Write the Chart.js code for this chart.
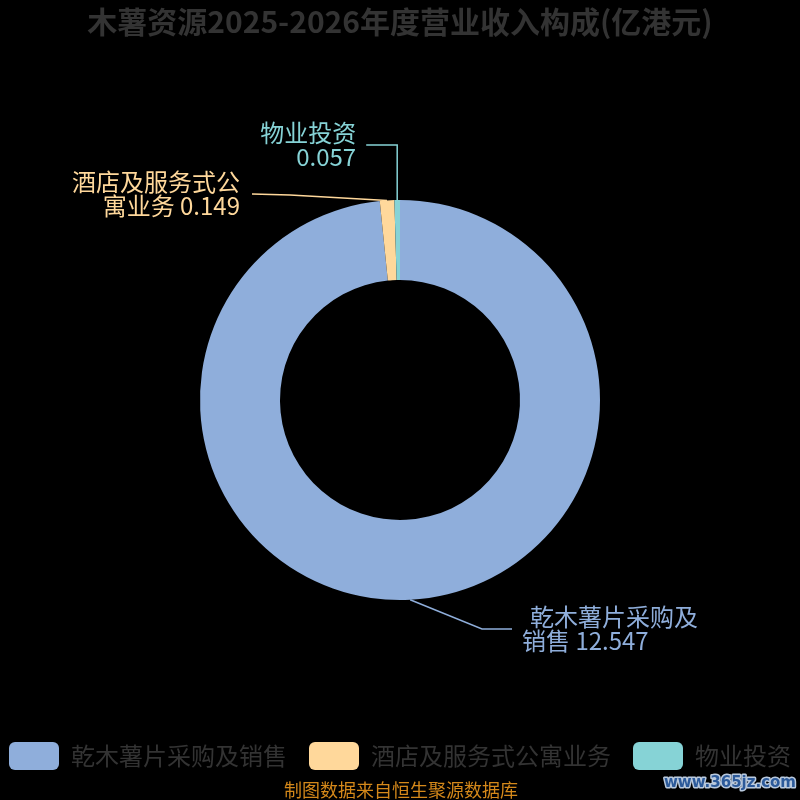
<!DOCTYPE html>
<html>
<head>
<meta charset="utf-8">
<script src="https://cdn.jsdelivr.net/npm/chart.js@4.4.1/dist/chart.umd.min.js"></script>
<style>
html,body{margin:0;padding:0;background:#000;}
#wrap{width:800px;height:800px;position:relative;background:#000;}
canvas{display:block;}
</style>
</head>
<body>
<div id="wrap"><canvas id="c" width="800" height="800"></canvas></div>
<script>
// ---- data ----
const title = '木薯资源2025-2026年度营业收入构成(亿港元)';
const categories = ['乾木薯片采购及销售', '酒店及服务式公寓业务', '物业投资'];
const values = [12.547, 0.149, 0.057];
const valueLabels = ['12.547', '0.149', '0.057'];
const labelWrap = [7, 7, 4];           // characters on the first label line
const footer = '制图数据来自恒生聚源数据库';
const watermark = 'www.365jz.com';

// ---- style ----
const FONT = '"Noto Sans CJK SC", "Noto Sans", sans-serif';
const colors = ['#8FAEDB', '#FFD89B', '#86D3D6'];
// leader line geometry relative to the chart centre (style only)
const labelStyle = [
  { elbow: [82, 229],  end: [112, 229],  align: 'left',  gap: 10, indent: 8 },
  { elbow: [-110, -205], end: [-148, -206], align: 'right', gap: 12, indent: 0 },
  { elbow: null, elbowY: -255, endDx: -31, align: 'right', gap: 10, indent: 0 }
];

Chart.defaults.font.family = FONT;

function labelLines(i) {
  const cat = categories[i];
  const n = labelWrap[i];
  const first = cat.slice(0, n);
  const rest = cat.slice(n);
  return [first, (rest ? rest + ' ' : '') + valueLabels[i]];
}

const bgPlugin = {
  id: 'bg',
  beforeDraw(chart) {
    const c = chart.ctx;
    c.save();
    c.fillStyle = '#000';
    c.fillRect(0, 0, chart.width, chart.height);
    c.restore();
  }
};

const sliceLabels = {
  id: 'sliceLabels',
  afterDatasetsDraw(chart) {
    const c = chart.ctx;
    const meta = chart.getDatasetMeta(0);
    meta.data.forEach((arc, i) => {
      const p = arc.getProps(['x', 'y', 'startAngle', 'endAngle', 'outerRadius'], true);
      const mid = (p.startAngle + p.endAngle) / 2;
      const sx = p.x + Math.cos(mid) * p.outerRadius;
      const sy = p.y + Math.sin(mid) * p.outerRadius;
      const st = labelStyle[i];
      let ex, ey, ox, oy;
      if (st.elbow) {
        ex = p.x + st.elbow[0]; ey = p.y + st.elbow[1];
        ox = p.x + st.end[0];   oy = p.y + st.end[1];
      } else {
        ex = sx; ey = p.y + st.elbowY;
        ox = sx + st.endDx; oy = ey;
      }
      c.save();
      c.strokeStyle = colors[i];
      c.lineWidth = 1.5;
      c.beginPath();
      c.moveTo(sx, sy);
      c.lineTo(ex, ey);
      c.lineTo(ox, oy);
      c.stroke();
      c.fillStyle = colors[i];
      c.font = '24px ' + FONT;
      c.textBaseline = 'middle';
      c.textAlign = st.align;
      const lines = labelLines(i);
      const lh = 24;
      const tx = st.align === 'left' ? ox + st.gap : ox - st.gap;
      lines.forEach((ln, k) => {
        const y = oy - lh / 2 + k * lh;
        const x = (k === 0 && st.align === 'left') ? tx + st.indent : tx;
        c.fillText(ln, x, y);
      });
      c.restore();
    });
  }
};

const textPlugin = {
  id: 'texts',
  afterDraw(chart) {
    const c = chart.ctx;
    c.save();
    c.textAlign = 'center';
    c.textBaseline = 'middle';
    c.fillStyle = '#333333';
    c.font = 'bold 30px ' + FONT;
    c.fillText(title, 400, 22);
    c.fillStyle = '#D4881A';
    c.font = '18px ' + FONT;
    c.fillText(footer, 401, 790);
    c.textAlign = 'right';
    c.font = 'bold 15px "DejaVu Sans", sans-serif';
    c.lineWidth = 3;
    c.strokeStyle = '#B9C9DD';
    c.lineJoin = 'round';
    c.strokeText(watermark, 796, 783);
    c.fillStyle = '#2C5A9A';
    c.fillText(watermark, 796, 783);
    c.restore();
  }
};

new Chart(document.getElementById('c'), {
  type: 'doughnut',
  data: {
    labels: categories,
    datasets: [{
      data: values,
      backgroundColor: colors,
      borderWidth: 0,
      radius: 200,
      cutout: '60%'
    }]
  },
  options: {
    responsive: false,
    animation: false,
    devicePixelRatio: 1,
    layout: { padding: { top: 80, bottom: 20, left: -14, right: -14 } },
    plugins: {
      title: { display: false },
      tooltip: { enabled: false },
      legend: {
        position: 'bottom',
        labels: {
          boxWidth: 50,
          boxHeight: 28,
          padding: 22,
          color: '#333333',
          font: { size: 24, family: FONT },
          useBorderRadius: true,
          borderRadius: 6
        }
      }
    }
  },
  plugins: [bgPlugin, sliceLabels, textPlugin]
});
</script>
</body>
</html>
